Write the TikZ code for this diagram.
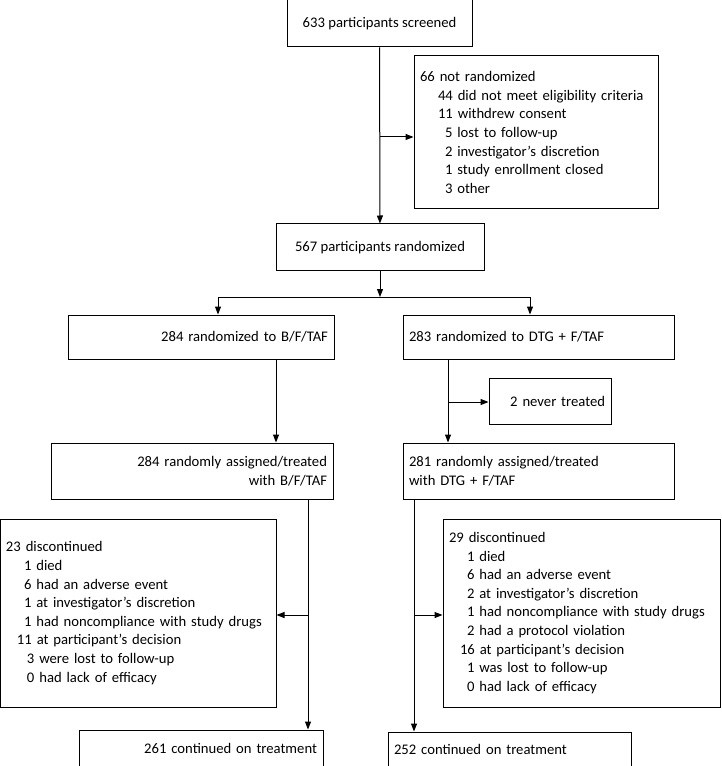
\documentclass[tikz,border=0pt]{standalone}
\usepackage{fontspec}
\setmainfont{Carlito}
\usetikzlibrary{arrows.meta}

\tikzset{every picture/.style={line width=0.75pt}}
\tikzset{fbox/.style={draw, inner xsep=4.5pt, inner ysep=0pt, font=\fontsize{11}{13.95}\selectfont}}

\begin{document}
\begin{tikzpicture}[x=0.75pt,y=0.75pt,yscale=-1,xscale=1,>={Triangle[length=6pt,width=4.5pt]}]
\useasboundingbox (0,0) rectangle (721,766);

% Text Node
\node [fbox, minimum width=185*0.75pt, minimum height=47*0.75pt] (scr) at (379.5,23.5) {633 participants screened};
% Text Node
\node [fbox, text width=174pt, align=left, minimum height=153*0.75pt] (excl) at (536,132.5) {66 not randomized\\
\hspace*{13.5pt}44 did not meet eligibility criteria\\
\hspace*{13.5pt}11 withdrew consent\\
\hspace*{18.75pt}5 lost to follow-up\\
\hspace*{18.75pt}2 investigator’s discretion\\
\hspace*{18.75pt}1 study enrollment closed\\
\hspace*{18.75pt}3 other};
% Text Node
\node [fbox, minimum width=208*0.75pt, minimum height=47*0.75pt] (rnd) at (380,247.5) {567 participants randomized};
% Text Node
\node [fbox, text width=190.5pt, align=right, minimum height=44*0.75pt] (armB) at (201,337) {284 randomized to B/F/TAF};
% Text Node
\node [fbox, text width=194.25pt, align=left, minimum height=44*0.75pt] (armD) at (538.5,337) {283 randomized to DTG + F/TAF};
% Text Node
\node [fbox, text width=82.5pt, align=right, minimum height=46*0.75pt] (nvt) at (550,401) {2 never treated};
% Text Node
\node [fbox, text width=202.5pt, align=right, minimum height=56*0.75pt] (trtB) at (192,471) {284 randomly assigned/treated\\ with B/F/TAF};
% Text Node
\node [fbox, text width=194.25pt, align=left, minimum height=56*0.75pt] (trtD) at (538.5,471) {281 randomly assigned/treated\\ with DTG + F/TAF};
% Text Node
\node [fbox, text width=198pt, align=left, minimum height=188*0.75pt] (discB) at (138,613) {23 discontinued\\
\hspace*{13.5pt}1 died\\
\hspace*{13.5pt}6 had an adverse event\\
\hspace*{13.5pt}1 at investigator’s discretion\\
\hspace*{13.5pt}1 had noncompliance with study drugs\\
\hspace*{8.25pt}11 at participant’s decision\\
\hspace*{15.75pt}3 were lost to follow-up\\
\hspace*{15.75pt}0 had lack of efficacy};
% Text Node
\node [fbox, text width=198.75pt, align=left, minimum height=188*0.75pt] (discD) at (581.5,613) {29 discontinued\\
\hspace*{13.5pt}1 died\\
\hspace*{13.5pt}6 had an adverse event\\
\hspace*{13.5pt}2 at investigator’s discretion\\
\hspace*{13.5pt}1 had noncompliance with study drugs\\
\hspace*{13.5pt}2 had a protocol violation\\
\hspace*{8.25pt}16 at participant’s decision\\
\hspace*{13.5pt}1 was lost to follow-up\\
\hspace*{13.5pt}0 had lack of efficacy};
% Text Node
\node [fbox, text width=174pt, align=right, minimum height=36*0.75pt] (contB) at (201,748) {261 continued on treatment};
% Text Node
\node [fbox, text width=173.25pt, align=left, minimum height=34*0.75pt] (contD) at (509.5,749) {252 continued on treatment};

%Connectors
\coordinate (j1) at (380,137);
\draw [->] (scr) -- (rnd);
\draw [->] (j1) -- (j1 -| excl.west);
\coordinate (sp) at (380,297);
\coordinate (spB) at (218,297);
\coordinate (spD) at (530,297);
\draw [->] (rnd) -- (sp);
\draw (spB) -- (spD);
\draw [->] (spB) -- (spB |- armB.north);
\draw [->] (spD) -- (spD |- armD.north);
\coordinate (cB1) at (276,0);
\draw [->] (armB.south -| cB1) -- (trtB.north -| cB1);
\coordinate (cD1) at (448,0);
\draw [->] (armD.south -| cD1) -- (trtD.north -| cD1);
\coordinate (j2) at (448,402);
\draw [->] (j2) -- (j2 -| nvt.west);
\coordinate (cB2) at (308,0);
\draw [->] (trtB.south -| cB2) -- (contB.north -| cB2);
\coordinate (j3) at (308,615);
\draw [->] (j3) -- (j3 -| discB.east);
\coordinate (cD2) at (414,0);
\draw [->] (trtD.south -| cD2) -- (contD.north -| cD2);
\coordinate (j4) at (414,615);
\draw [->] (j4) -- (j4 -| discD.west);

\end{tikzpicture}
\end{document}
